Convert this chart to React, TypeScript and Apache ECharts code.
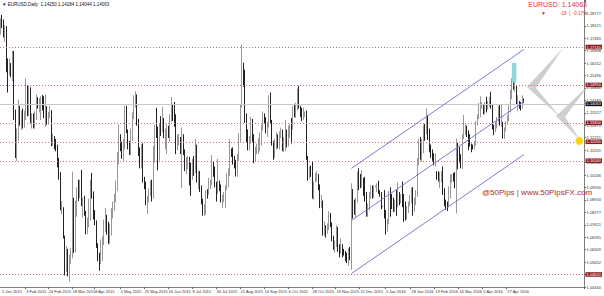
import React, { useEffect, useRef } from "react";
import * as echarts from "echarts";

// Each candle: [open, close, low, high]
const jan2015 = [
  [1.1793, 1.1842, 1.1765, 1.185], [1.184, 1.1835, 1.18, 1.1869], [1.1835, 1.1772, 1.175, 1.1845], [1.1772, 1.179, 1.1728, 1.1815],
  [1.179, 1.163, 1.1567, 1.181], [1.163, 1.1565, 1.146, 1.164], [1.1565, 1.1605, 1.155, 1.164], [1.1605, 1.1555, 1.154, 1.1615],
  [1.1555, 1.161, 1.152, 1.168], [1.161, 1.1365, 1.1315, 1.1679], [1.1365, 1.1205, 1.1114, 1.137], [1.112, 1.1245, 1.1098, 1.127],
  [1.1245, 1.138, 1.1205, 1.1423], [1.138, 1.129, 1.1285, 1.139], [1.129, 1.132, 1.1262, 1.1365], [1.132, 1.129, 1.127, 1.1375],
];
const feb2015 = [
  [1.129, 1.1345, 1.1275, 1.1365], [1.1345, 1.148, 1.1315, 1.1534], [1.148, 1.1345, 1.1335, 1.15], [1.1345, 1.1478, 1.1335, 1.1498],
  [1.1478, 1.1315, 1.13, 1.1487], [1.1315, 1.132, 1.127, 1.135], [1.132, 1.131, 1.127, 1.135], [1.131, 1.133, 1.1271, 1.136],
  [1.133, 1.14, 1.1315, 1.145], [1.14, 1.1385, 1.1375, 1.1435], [1.1385, 1.141, 1.1355, 1.143], [1.141, 1.141, 1.1315, 1.144],
  [1.141, 1.14, 1.1365, 1.1448], [1.14, 1.1375, 1.1325, 1.144], [1.1375, 1.138, 1.1278, 1.145], [1.138, 1.133, 1.129, 1.1388],
  [1.133, 1.134, 1.129, 1.1358], [1.134, 1.136, 1.1324, 1.1388], [1.136, 1.1195, 1.1177, 1.1367], [1.1195, 1.1195, 1.118, 1.1243],
];
const mar2015 = [
  [1.1195, 1.1185, 1.116, 1.123], [1.1185, 1.1175, 1.115, 1.1215], [1.1175, 1.1075, 1.1065, 1.1185], [1.1075, 1.103, 1.1, 1.1115],
  [1.103, 1.0845, 1.0838, 1.104], [1.0845, 1.085, 1.0818, 1.0887], [1.085, 1.07, 1.069, 1.0855], [1.07, 1.055, 1.0495, 1.0705],
  [1.055, 1.063, 1.0512, 1.065], [1.063, 1.0495, 1.049, 1.0635], [1.0495, 1.0565, 1.0462, 1.0605], [1.0565, 1.0595, 1.0555, 1.064],
  [1.0595, 1.089, 1.0585, 1.1043], [1.089, 1.0655, 1.0614, 1.0905], [1.0655, 1.082, 1.0617, 1.089], [1.082, 1.094, 1.0805, 1.096],
  [1.094, 1.0925, 1.0888, 1.1], [1.0925, 1.0965, 1.0902, 1.1], [1.0965, 1.0885, 1.086, 1.1052], [1.0885, 1.089, 1.08, 1.0904],
  [1.089, 1.083, 1.081, 1.0915], [1.083, 1.073, 1.0712, 1.0835],
];
const apr2015 = [
  [1.073, 1.076, 1.0712, 1.08], [1.076, 1.088, 1.075, 1.09], [1.088, 1.097, 1.0785, 1.1], [1.097, 1.092, 1.09, 1.1035],
  [1.092, 1.08, 1.079, 1.0938], [1.08, 1.078, 1.076, 1.084], [1.078, 1.066, 1.064, 1.0785], [1.066, 1.06, 1.057, 1.0665],
  [1.06, 1.057, 1.052, 1.0615], [1.057, 1.067, 1.0555, 1.0685], [1.067, 1.068, 1.057, 1.07], [1.068, 1.076, 1.0655, 1.079],
  [1.076, 1.081, 1.0725, 1.085], [1.081, 1.074, 1.071, 1.0815], [1.074, 1.072, 1.066, 1.0778], [1.072, 1.073, 1.0664, 1.0768],
  [1.073, 1.082, 1.0705, 1.085], [1.082, 1.087, 1.0795, 1.0885], [1.087, 1.089, 1.0835, 1.0925], [1.089, 1.098, 1.088, 1.0995],
  [1.098, 1.113, 1.094, 1.1145], [1.113, 1.1225, 1.108, 1.129],
];
const may2015 = [
  [1.1225, 1.1195, 1.115, 1.124], [1.1195, 1.1145, 1.111, 1.12], [1.1145, 1.119, 1.11, 1.1215], [1.119, 1.135, 1.116, 1.1391],
  [1.135, 1.1265, 1.1245, 1.139], [1.1265, 1.12, 1.116, 1.1265], [1.12, 1.116, 1.113, 1.1205], [1.116, 1.1215, 1.113, 1.127],
  [1.1215, 1.1345, 1.1205, 1.1355], [1.1345, 1.1405, 1.132, 1.1445], [1.1405, 1.1445, 1.138, 1.1467], [1.1445, 1.1315, 1.1285, 1.145],
  [1.1315, 1.1145, 1.1125, 1.132], [1.1145, 1.1095, 1.106, 1.117], [1.1095, 1.1105, 1.106, 1.1188], [1.1105, 1.101, 1.0985, 1.1192],
  [1.101, 1.0985, 1.095, 1.1015], [1.0985, 1.0875, 1.0865, 1.099], [1.0875, 1.09, 1.0819, 1.0915], [1.09, 1.0935, 1.088, 1.0955],
  [1.0935, 1.0985, 1.0915, 1.0995],
];
const jun2015 = [
  [1.0985, 1.0925, 1.0885, 1.1], [1.0925, 1.115, 1.09, 1.118], [1.115, 1.1275, 1.109, 1.129], [1.1275, 1.124, 1.122, 1.138],
  [1.124, 1.111, 1.105, 1.128], [1.111, 1.129, 1.11, 1.1295], [1.129, 1.1285, 1.123, 1.1335], [1.1285, 1.132, 1.125, 1.1385],
  [1.132, 1.1255, 1.122, 1.1325], [1.1255, 1.1265, 1.116, 1.127], [1.1265, 1.128, 1.1135, 1.1295], [1.128, 1.124, 1.122, 1.1285],
  [1.124, 1.1335, 1.12, 1.1345], [1.1335, 1.137, 1.1305, 1.1436], [1.137, 1.135, 1.131, 1.14], [1.135, 1.1335, 1.128, 1.141],
  [1.1335, 1.116, 1.1135, 1.1345], [1.116, 1.12, 1.1155, 1.124], [1.12, 1.1205, 1.118, 1.124], [1.1205, 1.1165, 1.1135, 1.1225],
  [1.1165, 1.1235, 1.0955, 1.1275], [1.1235, 1.115, 1.113, 1.124],
];
const jul2015 = [
  [1.115, 1.106, 1.1045, 1.116], [1.106, 1.1085, 1.103, 1.112], [1.1085, 1.111, 1.1055, 1.1125], [1.111, 1.1055, 1.097, 1.112],
  [1.1055, 1.1015, 1.0915, 1.109], [1.1015, 1.1085, 1.1, 1.111], [1.1085, 1.104, 1.102, 1.1125], [1.104, 1.116, 1.1035, 1.1215],
  [1.116, 1.0995, 1.0985, 1.1185], [1.0995, 1.1005, 1.095, 1.105], [1.1005, 1.095, 1.0935, 1.1045], [1.095, 1.088, 1.087, 1.097],
  [1.088, 1.083, 1.081, 1.09], [1.083, 1.083, 1.0809, 1.087], [1.083, 1.0935, 1.0815, 1.0945], [1.0935, 1.093, 1.09, 1.095],
  [1.093, 1.098, 1.092, 1.101], [1.098, 1.098, 1.095, 1.1], [1.098, 1.109, 1.097, 1.113], [1.109, 1.106, 1.1015, 1.1095],
  [1.106, 1.0985, 1.096, 1.107], [1.0985, 1.0935, 1.0885, 1.099], [1.0935, 1.0985, 1.0925, 1.111],
];
const aug2015 = [
  [1.0985, 1.0955, 1.094, 1.0995], [1.0955, 1.0885, 1.088, 1.0975], [1.0885, 1.09, 1.085, 1.092], [1.09, 1.0925, 1.088, 1.0935],
  [1.0925, 1.0965, 1.085, 1.097], [1.0965, 1.102, 1.0945, 1.1035], [1.102, 1.104, 1.096, 1.106], [1.104, 1.116, 1.102, 1.1214],
  [1.116, 1.115, 1.112, 1.1165], [1.115, 1.1105, 1.108, 1.117], [1.1105, 1.1085, 1.106, 1.1125], [1.1085, 1.1025, 1.1017, 1.1105],
  [1.1025, 1.112, 1.1015, 1.1135], [1.112, 1.124, 1.11, 1.1245], [1.124, 1.1385, 1.12, 1.1395], [1.1385, 1.1615, 1.138, 1.1714],
  [1.1615, 1.152, 1.149, 1.1618], [1.152, 1.132, 1.13, 1.158], [1.132, 1.1245, 1.1198, 1.135], [1.1245, 1.118, 1.1155, 1.1265],
  [1.118, 1.121, 1.1155, 1.123],
];
const sep2015 = [
  [1.121, 1.1315, 1.119, 1.1332], [1.1315, 1.123, 1.12, 1.132], [1.123, 1.112, 1.1087, 1.124], [1.112, 1.115, 1.1095, 1.1175],
  [1.115, 1.117, 1.1135, 1.119], [1.117, 1.12, 1.1135, 1.122], [1.12, 1.1205, 1.115, 1.125], [1.1205, 1.1275, 1.118, 1.129],
  [1.1275, 1.134, 1.126, 1.136], [1.134, 1.1315, 1.1295, 1.135], [1.1315, 1.1265, 1.1245, 1.133], [1.1265, 1.129, 1.1225, 1.1305],
  [1.129, 1.1435, 1.1275, 1.1445], [1.1435, 1.1305, 1.1295, 1.146], [1.1305, 1.1195, 1.118, 1.1315], [1.1195, 1.113, 1.1105, 1.1205],
  [1.113, 1.119, 1.1115, 1.1215], [1.119, 1.1215, 1.116, 1.125], [1.1215, 1.1195, 1.1165, 1.124], [1.1195, 1.1245, 1.116, 1.1255],
  [1.1245, 1.125, 1.122, 1.1275], [1.125, 1.1175, 1.115, 1.1265],
];
const oct2015 = [
  [1.1175, 1.1195, 1.1145, 1.1225], [1.1195, 1.121, 1.115, 1.1315], [1.121, 1.119, 1.117, 1.1265], [1.119, 1.126, 1.1175, 1.1285],
  [1.126, 1.128, 1.122, 1.1295], [1.128, 1.1275, 1.119, 1.1325], [1.1275, 1.136, 1.1265, 1.1387], [1.136, 1.1355, 1.133, 1.14],
  [1.1355, 1.138, 1.1325, 1.1405], [1.138, 1.147, 1.1365, 1.148], [1.147, 1.1385, 1.1375, 1.1495], [1.1385, 1.135, 1.133, 1.139],
  [1.135, 1.1325, 1.131, 1.138], [1.1325, 1.1345, 1.1315, 1.138], [1.1345, 1.1345, 1.133, 1.136], [1.1345, 1.111, 1.1105, 1.1365],
  [1.111, 1.1015, 1.0995, 1.1125], [1.1015, 1.1055, 1.1005, 1.107], [1.1055, 1.1045, 1.1015, 1.1075], [1.1045, 1.092, 1.09, 1.1095],
  [1.092, 1.098, 1.0895, 1.099], [1.098, 1.1005, 1.0985, 1.1035],
];
const nov2015 = [
  [1.1005, 1.1015, 1.099, 1.1045], [1.1015, 1.0955, 1.0945, 1.103], [1.0955, 1.0865, 1.085, 1.0975], [1.0865, 1.0885, 1.085, 1.092],
  [1.0885, 1.074, 1.0705, 1.089], [1.074, 1.075, 1.0705, 1.078], [1.075, 1.072, 1.0695, 1.076], [1.072, 1.0755, 1.0715, 1.077],
  [1.0755, 1.0815, 1.0735, 1.0834], [1.0815, 1.077, 1.075, 1.0825], [1.077, 1.0685, 1.0675, 1.0775], [1.0685, 1.0645, 1.063, 1.0705],
  [1.0645, 1.0655, 1.0615, 1.068], [1.0655, 1.073, 1.0645, 1.076], [1.073, 1.0645, 1.062, 1.075], [1.0645, 1.0635, 1.059, 1.066],
  [1.0635, 1.0645, 1.061, 1.069], [1.0645, 1.0625, 1.059, 1.066], [1.0625, 1.061, 1.06, 1.0635], [1.061, 1.059, 1.057, 1.0625],
  [1.059, 1.0565, 1.056, 1.0615],
];
const dec2015 = [
  [1.0565, 1.063, 1.0545, 1.064], [1.063, 1.0615, 1.0575, 1.0645], [1.0615, 1.094, 1.0524, 1.0981], [1.094, 1.0885, 1.0795, 1.095],
  [1.0885, 1.0835, 1.0815, 1.0895], [1.0835, 1.0895, 1.08, 1.0905], [1.0895, 1.102, 1.088, 1.1043], [1.102, 1.0995, 1.0945, 1.106],
  [1.0995, 1.099, 1.0955, 1.103], [1.099, 1.0995, 1.096, 1.105], [1.0995, 1.093, 1.0915, 1.101], [1.093, 1.0915, 1.0885, 1.1015],
  [1.0915, 1.083, 1.0805, 1.0935], [1.083, 1.0865, 1.0805, 1.0875], [1.0865, 1.0915, 1.084, 1.0935], [1.0915, 1.0955, 1.09, 1.097],
  [1.0955, 1.0915, 1.09, 1.097], [1.0915, 1.0965, 1.0905, 1.097], [1.0965, 1.0965, 1.096, 1.097], [1.0965, 1.097, 1.0935, 1.098],
  [1.097, 1.0935, 1.0925, 1.0995], [1.0935, 1.093, 1.091, 1.0945], [1.093, 1.086, 1.0845, 1.0935],
];
const jan2016 = [
  [1.086, 1.086, 1.0855, 1.0865], [1.086, 1.083, 1.0795, 1.0945], [1.083, 1.0745, 1.0711, 1.084], [1.0745, 1.078, 1.0725, 1.0795],
  [1.078, 1.093, 1.0765, 1.094], [1.093, 1.092, 1.0805, 1.096], [1.092, 1.0855, 1.0845, 1.0925], [1.0855, 1.085, 1.083, 1.0905],
  [1.085, 1.0875, 1.083, 1.0895], [1.0875, 1.0865, 1.081, 1.0945], [1.0865, 1.0915, 1.0855, 1.0985], [1.0915, 1.089, 1.0865, 1.0935],
  [1.089, 1.09, 1.0875, 1.0925], [1.09, 1.089, 1.0855, 1.099], [1.089, 1.0875, 1.0778, 1.0925], [1.0875, 1.0795, 1.0785, 1.0885],
  [1.0795, 1.0845, 1.079, 1.086], [1.0845, 1.087, 1.0825, 1.0885], [1.087, 1.0895, 1.086, 1.092], [1.0895, 1.0935, 1.0875, 1.096],
  [1.0935, 1.083, 1.081, 1.096],
];
const feb2016 = [
  [1.083, 1.0885, 1.083, 1.0905], [1.0885, 1.092, 1.0865, 1.0945], [1.092, 1.1105, 1.091, 1.1115], [1.1105, 1.121, 1.1075, 1.1215],
  [1.121, 1.1155, 1.1105, 1.1225], [1.1155, 1.1195, 1.1095, 1.1215], [1.1195, 1.1285, 1.114, 1.129], [1.1285, 1.124, 1.1205, 1.1295],
  [1.124, 1.132, 1.124, 1.1376], [1.132, 1.1255, 1.121, 1.134], [1.1255, 1.1155, 1.1145, 1.127], [1.1155, 1.1145, 1.1115, 1.1185],
  [1.1145, 1.1125, 1.11, 1.116], [1.1125, 1.11, 1.1075, 1.114], [1.11, 1.113, 1.107, 1.114], [1.113, 1.1025, 1.1, 1.1045],
  [1.1025, 1.1015, 1.099, 1.1045], [1.1015, 1.1015, 1.0955, 1.104], [1.1015, 1.102, 1.0985, 1.1045], [1.102, 1.0935, 1.092, 1.107],
  [1.0935, 1.0875, 1.086, 1.0955],
];
const mar2016 = [
  [1.0875, 1.087, 1.084, 1.0895], [1.087, 1.0865, 1.0835, 1.0885], [1.0865, 1.0955, 1.0855, 1.0965], [1.0955, 1.1005, 1.09, 1.103],
  [1.1005, 1.1015, 1.0985, 1.103], [1.1015, 1.101, 1.099, 1.1035], [1.101, 1.0995, 1.0955, 1.104], [1.0995, 1.118, 1.0822, 1.1218],
  [1.118, 1.115, 1.1055, 1.1195], [1.115, 1.111, 1.109, 1.1175], [1.111, 1.109, 1.106, 1.1135], [1.109, 1.1225, 1.1055, 1.124],
  [1.1225, 1.127, 1.1215, 1.1342], [1.127, 1.127, 1.1235, 1.13], [1.127, 1.124, 1.1225, 1.1285], [1.124, 1.122, 1.1155, 1.126],
  [1.122, 1.118, 1.1175, 1.124], [1.118, 1.1175, 1.1145, 1.119], [1.1175, 1.1165, 1.116, 1.1185], [1.1165, 1.1195, 1.116, 1.1205],
  [1.1195, 1.13, 1.118, 1.131], [1.13, 1.1335, 1.1285, 1.1345], [1.1335, 1.138, 1.132, 1.1405],
];
const apr2016 = [
  [1.138, 1.139, 1.133, 1.144], [1.139, 1.139, 1.1375, 1.141], [1.139, 1.1375, 1.1345, 1.1395], [1.1375, 1.141, 1.1345, 1.141],
  [1.141, 1.1375, 1.1355, 1.1438], [1.1375, 1.1395, 1.137, 1.1415], [1.1395, 1.141, 1.1385, 1.1435], [1.141, 1.1385, 1.1375, 1.1464],
  [1.1385, 1.1275, 1.1265, 1.1395], [1.1275, 1.1265, 1.1235, 1.129], [1.1265, 1.1285, 1.125, 1.1305], [1.1285, 1.1315, 1.127, 1.133],
  [1.1315, 1.1355, 1.1305, 1.139], [1.1355, 1.129, 1.1285, 1.1395], [1.129, 1.129, 1.128, 1.14], [1.129, 1.1225, 1.1217, 1.1305],
  [1.1225, 1.1265, 1.1215, 1.1275], [1.1265, 1.13, 1.1255, 1.131], [1.13, 1.1315, 1.129, 1.134], [1.1315, 1.1355, 1.131, 1.1392],
  [1.1355, 1.1455, 1.1355, 1.1476],
];
const may2016 = [
  [1.1455, 1.153, 1.1425, 1.1535], [1.153, 1.148, 1.1475, 1.1616], [1.148, 1.149, 1.1465, 1.1535], [1.149, 1.1405, 1.1395, 1.1495],
  [1.1405, 1.1405, 1.1365, 1.1445], [1.1405, 1.1385, 1.1375, 1.1415], [1.1385, 1.138, 1.1365, 1.141], [1.138, 1.14253, 1.1375, 1.1445],
  [1.1425, 1.14063, 1.14044, 1.14284],
];

const firstDay = "9 Jan 2015";
const slotCount = 390;
const tickLabels = [
  "3 Feb 2015", "24 Feb 2015", "18 Mar 2015", "8 Apr 2015", "1 May 2015", "25 May 2015", "16 Jun 2015",
  "8 Jul 2015", "30 Jul 2015", "21 Aug 2015", "14 Sep 2015", "6 Oct 2015", "28 Oct 2015", "19 Nov 2015",
  "11 Dec 2015", "5 Jan 2016", "28 Jan 2016", "19 Feb 2016", "14 Mar 2016", "5 Apr 2016", "27 Apr 2016",
];
const firstTickLabel = "5 Jan 2015";
const levels = [1.1714, 1.1495, 1.1345, 1.1205, 1.1054, 1.0462];
const lastPrice = 1.14063;
const channelDates = ["3 Dec 2015", "12 May 2016"];
const channelUpper = [1.106, 1.1687];
const channelMiddle = [1.0785, 1.1412];
const channelLower = [1.0505, 1.1132];
const highlightDates = ["2 May 2016", "5 May 2016"];
const highlightPrices = [1.1616, 1.1512];
const dotLevel = 1.1205;
const yMin = 1.0434;
const yMax = 1.1948;
const yStep = 0.0065623;

const MONTHS = ["Jan", "Feb", "Mar", "Apr", "May", "Jun", "Jul", "Aug", "Sep", "Oct", "Nov", "Dec"];

function buildDates(): string[] {
  const parts = firstDay.split(" ");
  let t = Date.UTC(+parts[2], MONTHS.indexOf(parts[1]), +parts[0]);
  const out: string[] = [];
  while (out.length < slotCount) {
    const d = new Date(t);
    const wd = d.getUTCDay();
    if (wd !== 0 && wd !== 6) out.push(`${d.getUTCDate()} ${MONTHS[d.getUTCMonth()]} ${d.getUTCFullYear()}`);
    t += 86400000;
  }
  return out;
}

export default function App() {
  const ref = useRef<HTMLDivElement>(null);
  useEffect(() => {
    if (!ref.current) return;
    const chart = echarts.init(ref.current, undefined, { renderer: "svg" });
    const dates = buildDates();
    const candles = [
      ...jan2015, ...feb2015, ...mar2015, ...apr2015, ...may2015, ...jun2015, ...jul2015, ...aug2015,
      ...sep2015, ...oct2015, ...nov2015, ...dec2015, ...jan2016, ...feb2016, ...mar2016, ...apr2016, ...may2016,
    ];
    const tickSet = new Set(tickLabels);
    const showTick = (_i: number, v: string) => tickSet.has(v);
    const font = "Liberation Sans";
    const levelLines = levels.map((v) => ({
      yAxis: v,
      lineStyle: { color: "#c87070", type: [1, 2], width: 1 },
      label: {
        show: true, position: "end", distance: 1, formatter: v.toFixed(5), color: "#fff",
        backgroundColor: "#8e1b1b", fontSize: 4, fontFamily: font, padding: [0.3, 1, 0.3, 1],
      },
    }));
    const chan = (vals: number[]) => [
      { coord: [channelDates[0], vals[0]], lineStyle: { color: "#7b7bd8", width: 1, type: "solid" }, label: { show: false } },
      { coord: [channelDates[1], vals[1]] },
    ];
    const arm = (pts: number[][]) => ({
      type: "polygon", shape: { points: pts }, style: { fill: "rgba(190,190,190,0.75)" }, z: 5, silent: true,
    });
    chart.setOption({
      animation: false,
      backgroundColor: "#ffffff",
      grid: { left: 0, right: 17, top: 0, bottom: 9 },
      xAxis: {
        type: "category", data: dates, boundaryGap: true,
        axisLine: { lineStyle: { color: "#808080", width: 1 } },
        axisTick: { show: true, interval: showTick, length: 2, lineStyle: { color: "#606060" } },
        axisLabel: { interval: showTick, fontSize: 4, fontFamily: font, color: "#333", align: "left", margin: 2 },
        splitLine: { show: false },
      },
      yAxis: {
        type: "value", position: "right", min: yMin, max: yMax, interval: yStep, scale: true,
        axisLine: { show: true, lineStyle: { color: "#808080", width: 1 } },
        axisTick: { show: true, length: 1.5, lineStyle: { color: "#606060" } },
        axisLabel: {
          fontSize: 4, fontFamily: font, color: "#333", margin: 2,
          formatter: (v: number) => (v > 1.19 ? "" : v.toFixed(5)),
        },
        splitLine: { show: false },
      },
      series: [
        {
          type: "candlestick",
          data: candles,
          barWidth: 1,
          itemStyle: { color: "#b0b0b0", borderColor: "#989898", color0: "#2a2a2a", borderColor0: "#222", borderWidth: 1 },
          markLine: {
            silent: true, symbol: ["none", "none"], animation: false,
            data: [
              ...levelLines,
              {
                yAxis: lastPrice,
                lineStyle: { color: "#c8c8c8", type: "solid", width: 1 },
                label: {
                  show: true, position: "end", distance: 1, formatter: lastPrice.toFixed(5), color: "#fff",
                  backgroundColor: "#111", fontSize: 4, fontFamily: font, padding: [0.3, 1, 0.3, 1],
                },
              },
              chan(channelUpper), chan(channelMiddle), chan(channelLower),
            ],
          },
          markArea: {
            silent: true, z: 4,
            itemStyle: { color: "#8fd5dc" },
            data: [[{ coord: [highlightDates[0], highlightPrices[0]] }, { coord: [highlightDates[1], highlightPrices[1]] }]],
          },
          markPoint: {
            silent: true, symbol: "circle", symbolSize: 8,
            itemStyle: { color: "#ffd21a" }, label: { show: false },
            data: [{ coord: [dates[386], dotLevel] }],
          },
        },
      ],
      graphic: [
        arm([[563, 48], [527, 87], [536, 88]]),
        arm([[527, 87], [536, 88], [561, 118]]),
        arm([[588, 86], [556, 116], [565, 117]]),
        arm([[556, 116], [565, 117], [580, 140]]),
        {
          type: "text", left: 2, top: 2, z: 10,
          style: { text: "\u25BC EURUSD,Daily  1.14250 1.14284 1.14044 1.14063", fontSize: 4.5, fontFamily: font, fill: "#111" },
        },
        { type: "text", x: 587, y: 1, z: 10, style: { text: "EURUSD  1.14063", fontSize: 7, fontFamily: font, fill: "#ee3030", align: "right" } },
        { type: "text", x: 541, y: 10.5, z: 10, style: { text: "\u25BC", fontSize: 5, fontFamily: font, fill: "#e02020" } },
        { type: "text", x: 587, y: 11, z: 10, style: { text: "-19  |  -0.17%", fontSize: 4.5, fontFamily: font, fill: "#e03030", align: "right" } },
        { type: "text", x: 482, y: 188, z: 10, style: { text: "@50Pips | www.50PipsFX.com", fontSize: 8, fontFamily: font, fill: "#b02a2a" } },
        { type: "text", x: 2, y: 289, z: 10, style: { text: firstTickLabel, fontSize: 4, fontFamily: font, fill: "#333" } },
      ],
    });
    return () => chart.dispose();
  }, []);
  return <div ref={ref} style={{ width: 604, height: 296, position: "absolute", left: 0, top: 0 }} />;
}
